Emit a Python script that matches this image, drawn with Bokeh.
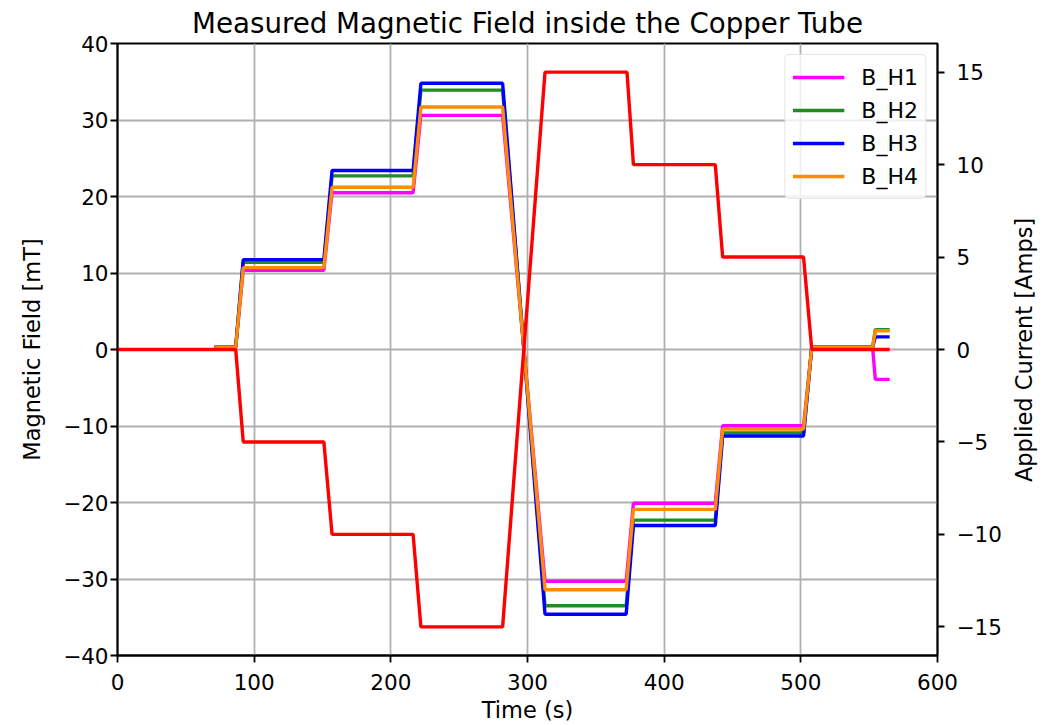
import math
from bokeh.plotting import figure
from bokeh.layouts import row
from bokeh.models import Range1d, LinearAxis, FixedTicker, Legend, Label
from bokeh.embed import file_html
from bokeh.resources import INLINE

# ---- data ----
t_B = [71, 86.5, 92, 151, 157, 216.3, 222, 281.8, 312.8, 372.2, 377.5,
       437.4, 442.8, 502, 508, 552.5, 554.5, 565]
B_H1 = [0.3, 0.3, 10.35, 10.35, 20.5, 20.5, 30.6, 30.6, -30.3, -30.3, -20.1,
        -20.1, -9.97, -9.97, 0.3, 0.3, -3.9, -3.9]
B_H2 = [0.3, 0.3, 11.4, 11.4, 22.7, 22.7, 33.9, 33.9, -33.5, -33.5, -22.3,
        -22.3, -10.9, -10.9, 0.3, 0.3, 2.6, 2.6]
B_H3 = [0.3, 0.3, 11.75, 11.75, 23.4, 23.4, 34.8, 34.8, -34.6, -34.6, -23.0,
        -23.0, -11.3, -11.3, 0.3, 0.3, 1.65, 1.65]
B_H4 = [0.3, 0.3, 10.7, 10.7, 21.2, 21.2, 31.7, 31.7, -31.4, -31.4, -20.9,
        -20.9, -10.4, -10.4, 0.3, 0.3, 2.45, 2.45]

t_I = [0, 86.5, 92, 151, 157, 216.3, 222, 281.8, 312.8, 372.8, 377.5,
       437.4, 442.8, 502, 508, 565]
current = [0, 0, -5, -5, -10, -10, -15, -15, 15, 15, 10, 10, 5, 5, 0, 0]

x_ticks = [0, 100, 200, 300, 400, 500, 600]
y_ticks = [-40, -30, -20, -10, 0, 10, 20, 30, 40]
i_ticks = [-15, -10, -5, 0, 5, 10, 15]

series = [("B_H1", B_H1, "#ff00ff"), ("B_H2", B_H2, "#228b22"),
          ("B_H3", B_H3, "#0000ff"), ("B_H4", B_H4, "#ff8c00")]

FONT = "DejaVu Sans"
TICK_FS = "21.5px"
LAB_FS = "22.5px"
RIGHT_TITLE = "Applied Current [Amps]"

H = 725
p = figure(width=1010, height=H, output_backend="svg", toolbar_location=None,
           x_range=Range1d(0, 600), y_range=Range1d(-40, 40),
           min_border_left=117, min_border_right=73,
           min_border_top=43, min_border_bottom=70)
p.extra_y_ranges = {"amps": Range1d(-16.55, 16.55)}

p.title.text = "Measured Magnetic Field inside the Copper Tube"
p.title.align = "center"
p.title.text_font = FONT
p.title.text_font_size = "27.7px"
p.title.text_font_style = "normal"
p.title.text_color = "black"
p.title.standoff = 7

p.outline_line_color = "black"
p.outline_line_width = 1.8
p.background_fill_color = "white"
p.border_fill_color = "white"

right = LinearAxis(y_range_name="amps")
p.add_layout(right, "right")

def minus(v):
    return str(v).replace("-", "\u2212")

p.xaxis.ticker = FixedTicker(ticks=x_ticks)
p.xaxis.major_label_overrides = {v: minus(v) for v in x_ticks}
p.yaxis[0].ticker = FixedTicker(ticks=y_ticks)
p.yaxis[0].major_label_overrides = {v: minus(v) for v in y_ticks}
right.ticker = FixedTicker(ticks=i_ticks)
right.major_label_overrides = {v: minus(v) for v in i_ticks}

p.xaxis.axis_label = "Time (s)"
p.yaxis[0].axis_label = "Magnetic Field [mT]"

for ax in p.xaxis + p.yaxis:
    ax.axis_line_color = "black"
    ax.axis_line_width = 1.8
    ax.major_tick_line_color = "black"
    ax.major_tick_line_width = 1.8
    ax.major_tick_out = 7
    ax.major_tick_in = 0
    ax.minor_tick_line_color = None
    ax.major_label_text_font = FONT
    ax.major_label_text_font_size = TICK_FS
    ax.major_label_text_color = "black"
    ax.axis_label_text_font = FONT
    ax.axis_label_text_font_size = LAB_FS
    ax.axis_label_text_font_style = "normal"
    ax.axis_label_text_color = "black"
p.xaxis.major_label_standoff = 11
p.xaxis.axis_label_standoff = 4
p.yaxis[0].major_label_standoff = 2
p.yaxis[0].axis_label_standoff = 15
right.major_label_standoff = 12

p.xgrid.ticker = FixedTicker(ticks=x_ticks)
p.ygrid.ticker = FixedTicker(ticks=y_ticks)
for g in (p.xgrid[0], p.ygrid[0]):
    g.grid_line_color = "#b0b0b0"
    g.grid_line_width = 1.8

items = []
for name, vals, col in series:
    r = p.line(t_B, vals, line_color=col, line_width=3.4)
    items.append((name, [r]))

p.line(t_I, current, line_color="#ff0000", line_width=3.4, y_range_name="amps")

legend = Legend(items=items, location="top_right")
legend.label_text_font = FONT
legend.label_text_font_size = "22px"
legend.label_text_color = "black"
legend.glyph_width = 52
legend.glyph_height = 30
legend.label_height = 30
legend.spacing = 3
legend.label_standoff = 17
legend.padding = 7
legend.margin = 11
legend.border_line_color = "#cccccc"
legend.border_line_width = 1.5
legend.border_radius = 5
legend.background_fill_alpha = 0.8
p.add_layout(legend)

# narrow strip on the right carrying the secondary-axis title, which reads
# bottom-to-top as in the reference
side = figure(width=40, height=H, output_backend="svg", toolbar_location=None,
              x_axis_type=None, y_axis_type=None,
              x_range=Range1d(0, 40), y_range=Range1d(0, H),
              min_border=0, outline_line_color=None)
side.xgrid.visible = False
side.ygrid.visible = False
side.add_layout(Label(x=13, y=H - 363, text=RIGHT_TITLE, angle=math.pi / 2,
                      text_align="center", text_baseline="middle",
                      text_font=FONT, text_font_size=LAB_FS,
                      text_color="black"))

layout = row(p, side, spacing=0)
open("out.html", "w").write(file_html(layout, INLINE))
